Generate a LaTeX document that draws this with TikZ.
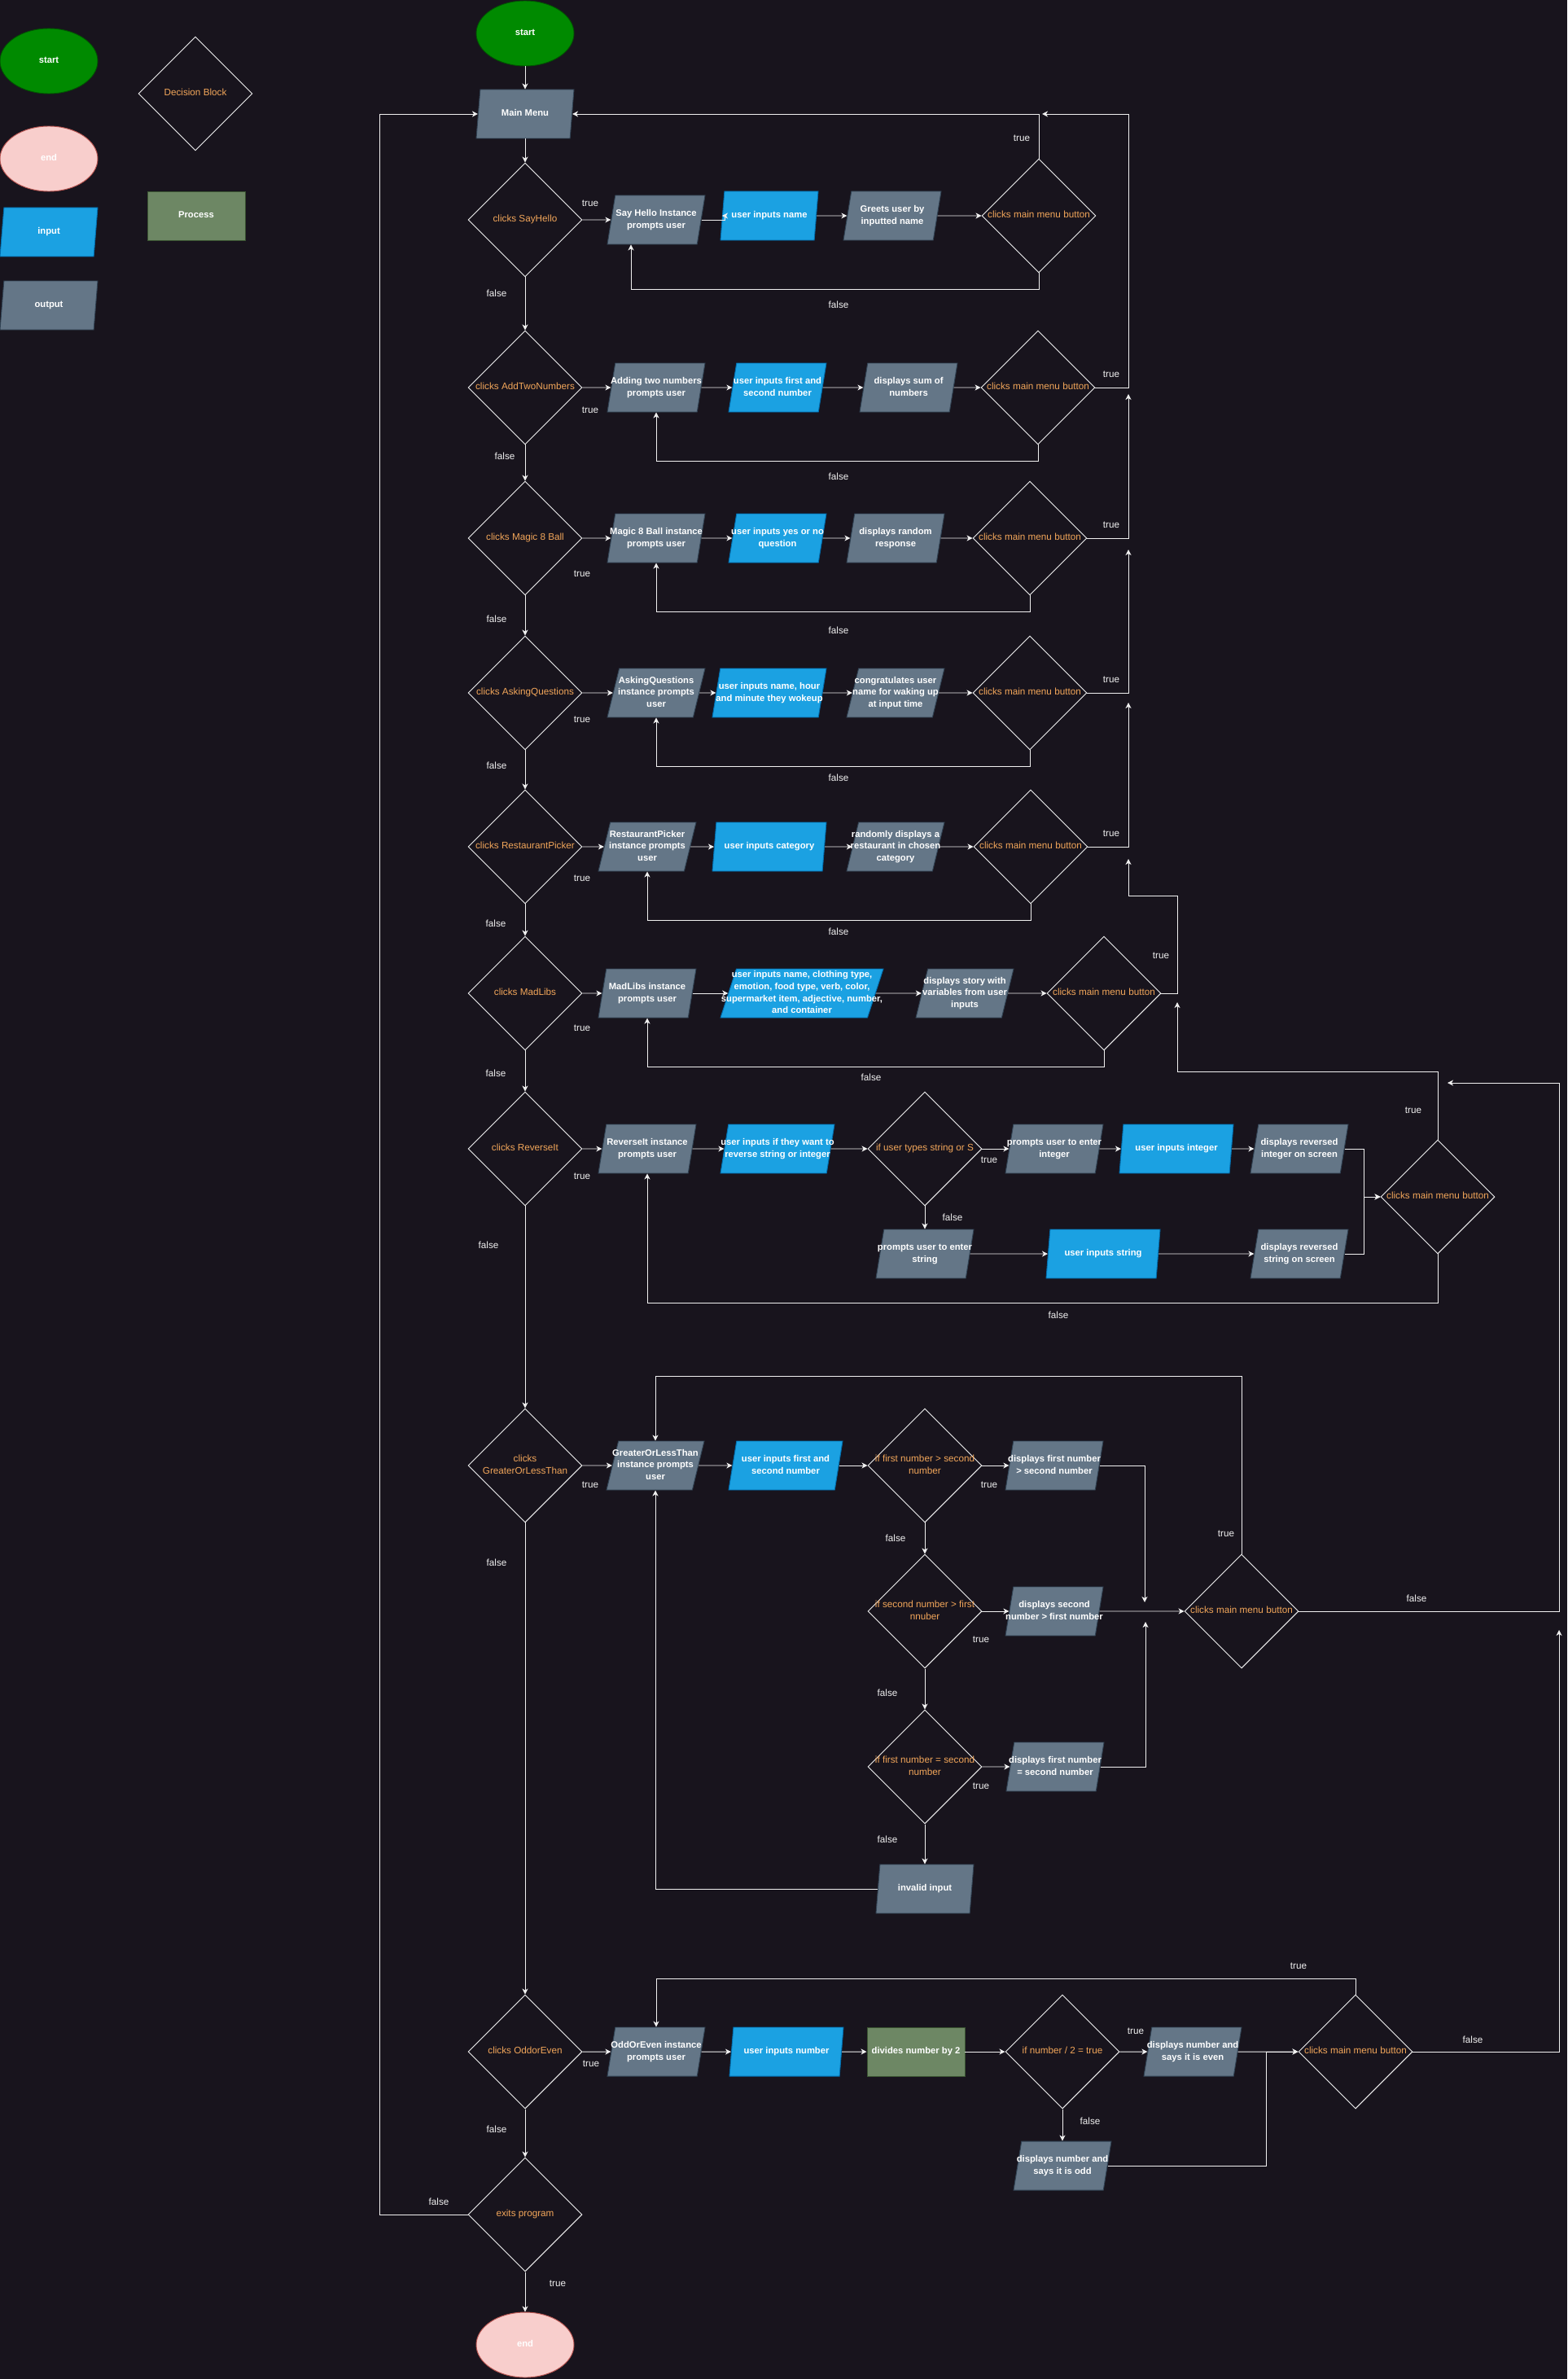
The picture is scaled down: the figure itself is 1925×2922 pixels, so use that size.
\documentclass[tikz,border=0pt]{standalone}
\usepackage{fontspec}
\setmainfont{Liberation Sans}
\usetikzlibrary{shapes.geometric,arrows.meta}
\definecolor{bg}{HTML}{18141D}
\definecolor{linecol}{HTML}{F0F0F0}
\definecolor{deccol}{HTML}{F2A65A}
\definecolor{outfill}{HTML}{647687}
\definecolor{outdraw}{HTML}{314354}
\definecolor{infill}{HTML}{1BA1E2}
\definecolor{indraw}{HTML}{006EAF}
\definecolor{procfill}{HTML}{6D8764}
\definecolor{procdraw}{HTML}{3A5431}
\definecolor{startfill}{HTML}{008A00}
\definecolor{startdraw}{HTML}{005700}
\definecolor{endfill}{HTML}{F8CECC}
\definecolor{enddraw}{HTML}{B85450}
\newcommand{\boxfont}{\fontsize{9.6}{12.5}\selectfont\bfseries}
\newcommand{\decfont}{\fontsize{10}{12.5}\selectfont}
\newcommand{\lblfont}{\fontsize{10}{12}\selectfont}
\newcommand{\boxtxt}[1]{\makebox[0pt]{\begin{tabular}{@{}c@{}}#1\end{tabular}}}
\begin{document}
\begin{tikzpicture}[x=0.3mm,y=-0.3mm,line width=0.8pt,
	flow/.style={draw=linecol,-{Stealth[length=2.1mm,width=2.1mm,inset=0.6mm]}},
	lbl/.style={text=linecol,font=\lblfont,inner sep=0pt},
	para/.style={trapezium,trapezium left angle=71.57,trapezium right angle=108.43,
		trapezium stretches body,minimum width=36mm,minimum height=18mm,
		inner sep=0pt,font=\boxfont,text=white},
	outbox/.style={para,fill=outfill,draw=outdraw},
	inbox/.style={para,fill=infill,draw=indraw},
	wider/.style={minimum width=42mm},
	dec/.style={diamond,draw=linecol,minimum width=42mm,minimum height=42mm,
		inner sep=0pt,font=\decfont,text=deccol},
	term/.style={ellipse,minimum width=36mm,minimum height=24mm,inner sep=0pt,
		font=\boxfont,text=white},
	proc/.style={rectangle,minimum width=36mm,minimum height=18mm,inner sep=0pt,
		fill=procfill,draw=procdraw,font=\boxfont,text=white}]
	\useasboundingbox (0,0) rectangle (1925,2922);
	\fill[bg] (0,0) rectangle (1925,2922);

	\node[term,fill=startfill,draw=startdraw] (lstart) at (60,75) {\boxtxt{start}};
	\node[dec] (ldec) at (240,115) {\boxtxt{Decision Block}};
	\node[term,fill=endfill,draw=enddraw] (lend) at (60,195) {\boxtxt{end}};
	\node[proc] (lproc) at (241,265) {\boxtxt{Process}};
	\node[inbox] (lin) at (60,285) {\boxtxt{input}};
	\node[outbox] (lout) at (60,375) {\boxtxt{output}};

	\node[term,fill=startfill,draw=startdraw] (start) at (645,41) {\boxtxt{start}};
	\node[outbox] (menu) at (645,140) {\boxtxt{Main Menu}};

	\node[dec] (d1) at (645,270) {\boxtxt{clicks SayHello}};
	\node[outbox] (o1a) at (806,270) {\boxtxt{Say Hello Instance\\prompts user}};
	\node[inbox] (i1) at (945,265) {\boxtxt{user inputs name}};
	\node[outbox] (o1b) at (1096,265) {\boxtxt{Greets user by\\inputted name}};
	\node[dec] (m1) at (1276,265) {\boxtxt{clicks main menu button}};

	\node[dec] (d2) at (645,476) {\boxtxt{clicks AddTwoNumbers}};
	\node[outbox] (o2a) at (806,476) {\boxtxt{Adding two numbers\\prompts user}};
	\node[inbox] (i2) at (955,476) {\boxtxt{user inputs first and\\second number}};
	\node[outbox] (o2b) at (1116,476) {\boxtxt{displays sum of\\numbers}};
	\node[dec] (m2) at (1275,476) {\boxtxt{clicks main menu button}};

	\node[dec] (d3) at (645,661) {\boxtxt{clicks Magic 8 Ball}};
	\node[outbox] (o3a) at (806,661) {\boxtxt{Magic 8 Ball instance\\prompts user}};
	\node[inbox] (i3) at (955,661) {\boxtxt{user inputs yes or no\\question}};
	\node[outbox] (o3b) at (1100,661) {\boxtxt{displays random\\response}};
	\node[dec] (m3) at (1265,661) {\boxtxt{clicks main menu button}};

	\node[dec] (d4) at (645,851) {\boxtxt{clicks AskingQuestions}};
	\node[outbox] (o4a) at (806,851) {\boxtxt{AskingQuestions\\instance prompts\\user}};
	\node[inbox,wider] (i4) at (945,851) {\boxtxt{user inputs name, hour\\and minute they wokeup}};
	\node[outbox] (o4b) at (1100,851) {\boxtxt{congratulates user\\name for waking up\\at input time}};
	\node[dec] (m4) at (1265,851) {\boxtxt{clicks main menu button}};

	\node[dec] (d5) at (645,1040) {\boxtxt{clicks RestaurantPicker}};
	\node[outbox] (o5a) at (795,1040) {\boxtxt{RestaurantPicker\\instance prompts\\user}};
	\node[inbox,wider] (i5) at (945,1040) {\boxtxt{user inputs category}};
	\node[outbox] (o5b) at (1100,1040) {\boxtxt{randomly displays a\\restaurant in chosen\\category}};
	\node[dec] (m5) at (1266,1040) {\boxtxt{clicks main menu button}};

	\node[dec] (d6) at (645,1220) {\boxtxt{clicks MadLibs}};
	\node[outbox] (o6a) at (795,1220) {\boxtxt{MadLibs instance\\prompts user}};
	\node[inbox,minimum width=60mm] (i6) at (985,1220) {\boxtxt{user inputs name, clothing type,\\emotion, food type, verb, color,\\supermarket item, adjective, number,\\and container}};
	\node[outbox] (o6b) at (1185,1220) {\boxtxt{displays story with\\variables from user\\inputs}};
	\node[dec] (m6) at (1356,1220) {\boxtxt{clicks main menu button}};

	\node[dec] (d7) at (645,1411) {\boxtxt{clicks ReverseIt}};
	\node[outbox] (o7a) at (795,1411) {\boxtxt{ReverseIt instance\\prompts user}};
	\node[inbox,wider] (i7a) at (955,1411) {\boxtxt{user inputs if they want to\\reverse string or integer}};
	\node[dec] (c7) at (1136,1411) {\boxtxt{if user types string or S}};
	\node[outbox] (o7b) at (1295,1411) {\boxtxt{prompts user to enter\\integer}};
	\node[inbox,wider] (i7b) at (1445,1411) {\boxtxt{user inputs integer}};
	\node[outbox] (o7c) at (1596,1411) {\boxtxt{displays reversed\\integer on screen}};
	\node[dec] (m7) at (1766,1470) {\boxtxt{clicks main menu button}};
	\node[outbox] (o7d) at (1136,1540) {\boxtxt{prompts user to enter\\string}};
	\node[inbox,wider] (i7c) at (1355,1540) {\boxtxt{user inputs string}};
	\node[outbox] (o7e) at (1596,1540) {\boxtxt{displays reversed\\string on screen}};

	\node[dec] (d8) at (645,1800) {\boxtxt{clicks\\GreaterOrLessThan}};
	\node[outbox] (o8a) at (805,1800) {\boxtxt{GreaterOrLessThan\\instance prompts\\user}};
	\node[inbox,wider] (i8) at (965,1800) {\boxtxt{user inputs first and\\second number}};
	\node[dec] (c8a) at (1136,1800) {\boxtxt{if first number > second\\number}};
	\node[outbox] (o8b) at (1295,1800) {\boxtxt{displays first number\\> second number}};
	\node[dec] (c8b) at (1136,1979) {\boxtxt{if second number > first\\nnuber}};
	\node[outbox] (o8c) at (1295,1979) {\boxtxt{displays second\\number > first number}};
	\node[dec] (m8) at (1525,1979) {\boxtxt{clicks main menu button}};
	\node[dec] (c8c) at (1136,2170) {\boxtxt{if first number = second\\number}};
	\node[outbox] (o8d) at (1296,2170) {\boxtxt{displays first number\\= second number}};
	\node[outbox] (o8e) at (1136,2320) {\boxtxt{invalid input}};

	\node[dec] (d9) at (645,2520) {\boxtxt{clicks OddorEven}};
	\node[outbox] (o9a) at (806,2520) {\boxtxt{OddOrEven instance\\prompts user}};
	\node[inbox,wider] (i9) at (966,2520) {\boxtxt{user inputs number}};
	\node[proc] (p9) at (1125,2520) {\boxtxt{divides number by 2}};
	\node[dec] (c9) at (1305,2520) {\boxtxt{if number / 2 = true}};
	\node[outbox] (o9b) at (1465,2520) {\boxtxt{displays number and\\says it is even}};
	\node[dec] (m9) at (1665,2520) {\boxtxt{clicks main menu button}};
	\node[outbox] (o9c) at (1305,2660) {\boxtxt{displays number and\\says it is odd}};

	\node[dec] (ex) at (645,2720) {\boxtxt{exits program}};
	\node[term,fill=endfill,draw=enddraw] (fin) at (645,2880) {\boxtxt{end}};

	\coordinate (e2) at (1280,140);
	\coordinate (e3) at (1386,484);
	\coordinate (e4) at (1386,675);
	\coordinate (e5) at (1386,863);
	\coordinate (e6) at (1386,1055);
	\coordinate (e7) at (1446,1231);
	\coordinate (e8) at (1778,1330);
	\coordinate (e9) at (1915,2002);
	\coordinate (g1) at (1406,1968);
	\coordinate (g2) at (1407,1992);

	\draw[flow] (start) -- (menu);
	\draw[flow] (menu) -- (d1);
	\draw[flow] (d1) -- (d2);
	\draw[flow] (d2) -- (d3);
	\draw[flow] (d3) -- (d4);
	\draw[flow] (d4) -- (d5);
	\draw[flow] (d5) -- (d6);
	\draw[flow] (d6) -- (d7);
	\draw[flow] (d7) -- (d8);
	\draw[flow] (d8) -- (d9);
	\draw[flow] (d9) -- (ex);
	\draw[flow] (ex) -- (fin);
	\draw[flow] (ex.west) -- (466,2720) |- (menu.west);

	\draw[flow] (d1) -- (o1a);
	\draw[flow] (o1a.east) -- ++(29,0) |- (i1);
	\draw[flow] (i1) -- (o1b);
	\draw[flow] (o1b) -- (m1);
	\draw[flow] (m1.north) |- (menu.east);
	\draw[flow] (m1.south) -- ++(0,20) -| ([xshift=-9.3mm]o1a.south);

	\draw[flow] (d2) -- (o2a);
	\draw[flow] (o2a) -- (i2);
	\draw[flow] (i2) -- (o2b);
	\draw[flow] (o2b) -- (m2);
	\draw[flow] (m2.east) -| (1386,140) -- (e2);
	\draw[flow] (m2.south) -- ++(0,20) -| (o2a.south);

	\draw[flow] (d3) -- (o3a);
	\draw[flow] (o3a) -- (i3);
	\draw[flow] (i3) -- (o3b);
	\draw[flow] (o3b) -- (m3);
	\draw[flow] (m3.east) -| (e3);
	\draw[flow] (m3.south) -- ++(0,20) -| (o3a.south);

	\draw[flow] (d4) -- (o4a);
	\draw[flow] (o4a) -- (i4);
	\draw[flow] (i4) -- (o4b);
	\draw[flow] (o4b) -- (m4);
	\draw[flow] (m4.east) -| (e4);
	\draw[flow] (m4.south) -- ++(0,20) -| (o4a.south);

	\draw[flow] (d5) -- (o5a);
	\draw[flow] (o5a) -- (i5);
	\draw[flow] (i5) -- (o5b);
	\draw[flow] (o5b) -- (m5);
	\draw[flow] (m5.east) -| (e5);
	\draw[flow] (m5.south) -- ++(0,20) -| (o5a.south);

	\draw[flow] (d6) -- (o6a);
	\draw[flow] (o6a) -- (i6);
	\draw[flow] (i6) -- (o6b);
	\draw[flow] (o6b) -- (m6);
	\draw[flow] (m6.east) -| (1446,1100) -| (e6);
	\draw[flow] (m6.south) -- ++(0,20) -| (o6a.south);

	\draw[flow] (d7) -- (o7a);
	\draw[flow] (o7a) -- (i7a);
	\draw[flow] (i7a) -- (c7);
	\draw[flow] (c7) -- (o7b);
	\draw[flow] (o7b) -- (i7b);
	\draw[flow] (i7b) -- (o7c);
	\draw[flow] (c7) -- (o7d);
	\draw[flow] (o7d) -- (i7c);
	\draw[flow] (i7c) -- (o7e);
	\draw[flow] (o7c.east) -| (1675,1470) -- (m7.west);
	\draw[flow] (o7e.east) -| (1675,1470) -- (m7.west);
	\draw[flow] (m7.north) -- (1766,1316) -| (e7);
	\draw[flow] (m7.south) -- (1766,1600) -| (o7a.south);

	\draw[flow] (d8) -- (o8a);
	\draw[flow] (o8a) -- (i8);
	\draw[flow] (i8) -- (c8a);
	\draw[flow] (c8a) -- (o8b);
	\draw[flow] (c8a) -- (c8b);
	\draw[flow] (c8b) -- (o8c);
	\draw[flow] (o8c) -- (m8);
	\draw[flow] (c8b) -- (c8c);
	\draw[flow] (c8c) -- (o8d);
	\draw[flow] (c8c) -- (o8e);
	\draw[flow] (o8b.east) -| (g1);
	\draw[flow] (o8d.east) -| (g2);
	\draw[flow] (o8e.west) -| (o8a.south);
	\draw[flow] (m8.north) -- (1525,1690) -| (o8a.north);
	\draw[flow] (m8.east) -| (1915,1330) -- (e8);

	\draw[flow] (d9) -- (o9a);
	\draw[flow] (o9a) -- (i9);
	\draw[flow] (i9) -- (p9);
	\draw[flow] (p9) -- (c9);
	\draw[flow] (c9) -- (o9b);
	\draw[flow] (o9b) -- (m9);
	\draw[flow] (c9) -- (o9c);
	\draw[flow] (o9c.east) -| (1555,2520) -- (m9.west);
	\draw[flow] (m9.north) -- (1665,2430) -| (o9a.north);
	\draw[flow] (m9.east) -| (e9);

	\node[lbl] (f1) at (610,360) {false};
	\node[lbl] (f2) at (620,560) {false};
	\node[lbl] (f3) at (610,760) {false};
	\node[lbl] (f4) at (610,940) {false};
	\node[lbl] (f5) at (609,1134) {false};
	\node[lbl] (f6) at (609,1318) {false};
	\node[lbl] (f7) at (600,1529) {false};
	\node[lbl] (f8) at (610,1919) {false};
	\node[lbl] (f9) at (610,2615) {false};
	\node[lbl] (fx) at (539,2704) {false};
	\node[lbl] (tx) at (685,2805) {true};

	\node[lbl] (t1) at (725,250) {true};
	\node[lbl] (t2) at (725,504) {true};
	\node[lbl] (t3) at (715,705) {true};
	\node[lbl] (t4) at (715,884) {true};
	\node[lbl] (t5) at (715,1079) {true};
	\node[lbl] (t6) at (715,1263) {true};
	\node[lbl] (t7) at (715,1445) {true};
	\node[lbl] (t8) at (725,1824) {true};
	\node[lbl] (t9) at (726,2535) {true};

	\node[lbl] (mt1) at (1255,170) {true};
	\node[lbl] (mt2) at (1365,460) {true};
	\node[lbl] (mt3) at (1365,645) {true};
	\node[lbl] (mt4) at (1365,835) {true};
	\node[lbl] (mt5) at (1365,1024) {true};
	\node[lbl] (mt6) at (1426,1174) {true};
	\node[lbl] (mt7) at (1736,1364) {true};
	\node[lbl] (mt8) at (1506,1884) {true};
	\node[lbl] (mt9) at (1595,2415) {true};
	\node[lbl] (mf8) at (1740,1963) {false};
	\node[lbl] (mf9) at (1809,2505) {false};

	\node[lbl] (mf1) at (1030,374) {false};
	\node[lbl] (mf2) at (1030,585) {false};
	\node[lbl] (mf3) at (1030,774) {false};
	\node[lbl] (mf4) at (1030,955) {false};
	\node[lbl] (mf5) at (1030,1144) {false};
	\node[lbl] (mf6) at (1070,1323) {false};
	\node[lbl] (mf7) at (1300,1615) {false};

	\node[lbl] (ct7) at (1215,1425) {true};
	\node[lbl] (cf7) at (1170,1495) {false};
	\node[lbl] (ct8a) at (1215,1824) {true};
	\node[lbl] (cf8a) at (1100,1889) {false};
	\node[lbl] (ct8b) at (1205,2014) {true};
	\node[lbl] (cf8b) at (1090,2079) {false};
	\node[lbl] (ct8c) at (1205,2194) {true};
	\node[lbl] (cf8c) at (1090,2259) {false};
	\node[lbl] (ct9) at (1395,2495) {true};
	\node[lbl] (cf9) at (1339,2605) {false};
\end{tikzpicture}
\end{document}
